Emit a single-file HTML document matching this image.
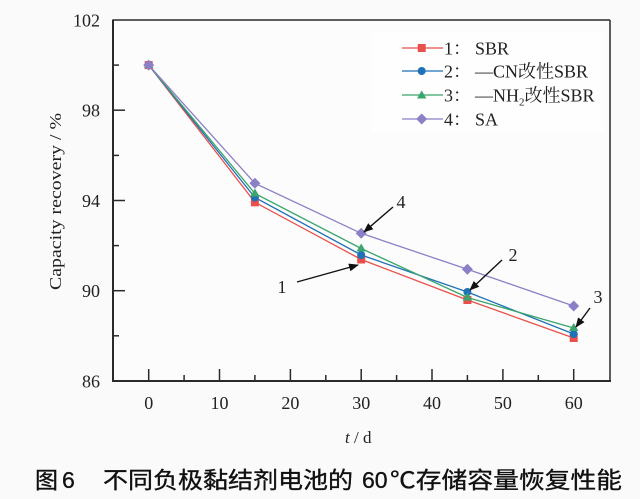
<!DOCTYPE html>
<html><head><meta charset="utf-8"><style>
html,body{margin:0;padding:0;background:#fafafa;}
svg{display:block;}
</style></head><body>
<svg width="640" height="499" viewBox="0 0 640 499" xmlns="http://www.w3.org/2000/svg">
<rect x="0" y="0" width="640" height="499" fill="#fafafa"/>
<rect x="113" y="20" width="497" height="361" fill="#fcfcfc"/>
<rect x="372" y="32" width="232" height="100" fill="#fefefe"/>
<defs>
<marker id="ah" markerWidth="10" markerHeight="8" refX="9" refY="4" orient="auto" markerUnits="userSpaceOnUse">
<path d="M0,0 L10,4 L0,8 Z" fill="#111"/>
</marker>
</defs>
<g stroke="#2a2a2a" fill="none">
<line x1="113" y1="20" x2="610" y2="20" stroke-width="1.5"/>
<line x1="610" y1="20" x2="610" y2="381" stroke-width="1.5"/>
<line x1="113" y1="19.5" x2="113" y2="382" stroke-width="2"/>
<line x1="112" y1="381" x2="611" y2="381" stroke-width="2"/>
<g stroke-width="1.5">
<line x1="113" y1="110.2" x2="125" y2="110.2"/>
<line x1="113" y1="200.5" x2="125" y2="200.5"/>
<line x1="113" y1="290.7" x2="125" y2="290.7"/>
<line x1="113" y1="65.1" x2="119" y2="65.1"/>
<line x1="113" y1="155.4" x2="119" y2="155.4"/>
<line x1="113" y1="245.6" x2="119" y2="245.6"/>
<line x1="113" y1="335.8" x2="119" y2="335.8"/>
<line x1="148.7" y1="381" x2="148.7" y2="369"/>
<line x1="219.5" y1="381" x2="219.5" y2="369"/>
<line x1="290.4" y1="381" x2="290.4" y2="369"/>
<line x1="361.2" y1="381" x2="361.2" y2="369"/>
<line x1="432.0" y1="381" x2="432.0" y2="369"/>
<line x1="502.9" y1="381" x2="502.9" y2="369"/>
<line x1="573.7" y1="381" x2="573.7" y2="369"/>
<line x1="184.1" y1="381" x2="184.1" y2="375"/>
<line x1="254.9" y1="381" x2="254.9" y2="375"/>
<line x1="325.8" y1="381" x2="325.8" y2="375"/>
<line x1="396.6" y1="381" x2="396.6" y2="375"/>
<line x1="467.4" y1="381" x2="467.4" y2="375"/>
<line x1="538.3" y1="381" x2="538.3" y2="375"/>
</g>
</g>
<g font-family="Liberation Serif, serif" font-size="18" fill="#222">
<g text-anchor="end">
<text x="100" y="26.5">102</text>
<text x="100" y="116.7">98</text>
<text x="100" y="207">94</text>
<text x="100" y="297.2">90</text>
<text x="100" y="387.5">86</text>
</g>
<g text-anchor="middle">
<text x="148.7" y="409">0</text>
<text x="219.5" y="409">10</text>
<text x="290.4" y="409">20</text>
<text x="361.2" y="409">30</text>
<text x="432.0" y="409">40</text>
<text x="502.9" y="409">50</text>
<text x="573.7" y="409">60</text>
</g>
<text x="345" y="443" font-size="17"><tspan font-style="italic">t</tspan> / d</text>
<text transform="translate(61,290) rotate(-90)" font-size="17" textLength="177" lengthAdjust="spacingAndGlyphs">Capacity recovery / %</text>
</g>
<g fill="none" stroke-width="1.3">
<polyline stroke="#e9504b" points="148.7,65.1 254.9,202.3 361.2,259.5 467.4,300 573.7,338"/>
<polyline stroke="#1f72b8" points="148.7,65.1 254.9,197.5 361.2,255 467.4,292 573.7,334"/>
<polyline stroke="#3aa56c" points="148.7,65.1 254.9,193.5 361.2,248.5 467.4,297.5 573.7,328"/>
<polyline stroke="#8b7fc6" points="148.7,65.1 254.9,183.3 361.2,233.3 467.4,269.3 573.7,306"/>
</g>
<g fill="#e9504b">
<rect x="144.7" y="61.1" width="8" height="8"/>
<rect x="250.9" y="198.3" width="8" height="8"/>
<rect x="357.2" y="255.5" width="8" height="8"/>
<rect x="463.4" y="296" width="8" height="8"/>
<rect x="569.7" y="334" width="8" height="8"/>
</g>
<g fill="#1f72b8">
<circle cx="148.7" cy="65.1" r="4"/>
<circle cx="254.9" cy="197.5" r="4"/>
<circle cx="361.2" cy="255" r="4"/>
<circle cx="467.4" cy="292" r="4"/>
<circle cx="573.7" cy="334" r="4"/>
</g>
<g fill="#3aa56c">
<path d="M148.7,60.1 L153.4,68.1 L144,68.1 Z"/>
<path d="M254.9,188.5 L259.6,196.5 L250.2,196.5 Z"/>
<path d="M361.2,243.5 L365.9,251.5 L356.5,251.5 Z"/>
<path d="M467.4,292.5 L472.1,300.5 L462.7,300.5 Z"/>
<path d="M573.7,323 L578.4,331 L569,331 Z"/>
</g>
<g fill="#8b7fc6">
<path d="M148.7,59.6 L154.2,65.1 L148.7,70.6 L143.2,65.1 Z"/>
<path d="M254.9,177.8 L260.4,183.3 L254.9,188.8 L249.4,183.3 Z"/>
<path d="M361.2,227.8 L366.7,233.3 L361.2,238.8 L355.7,233.3 Z"/>
<path d="M467.4,263.8 L472.9,269.3 L467.4,274.8 L461.9,269.3 Z"/>
<path d="M573.7,300.5 L579.2,306 L573.7,311.5 L568.2,306 Z"/>
</g>
<g stroke="#111" stroke-width="1.4" fill="none" marker-end="url(#ah)">
<line x1="393" y1="207" x2="364" y2="232"/>
<line x1="297" y1="282" x2="358" y2="265"/>
<line x1="502" y1="260" x2="470" y2="290"/>
<line x1="590" y1="308" x2="576" y2="327"/>
</g>
<g font-family="Liberation Serif, serif" font-size="18" fill="#222" text-anchor="middle">
<text x="401" y="208">4</text>
<text x="282" y="293">1</text>
<text x="513" y="261">2</text>
<text x="598" y="303">3</text>
</g>
<g stroke-width="1.3">
<line x1="402" y1="48" x2="443" y2="48" stroke="#e9504b"/>
<rect x="417.7" y="44" width="8" height="8" fill="#e9504b"/>
<line x1="402" y1="71" x2="443" y2="71" stroke="#1f72b8"/>
<circle cx="421.7" cy="71" r="4" fill="#1f72b8"/>
<line x1="402" y1="95" x2="443" y2="95" stroke="#3aa56c"/>
<path d="M421.7,90.5 L426.4,98.5 L417,98.5 Z" fill="#3aa56c"/>
<line x1="402" y1="119" x2="443" y2="119" stroke="#8b7fc6"/>
<path d="M421.7,113.5 L427.2,119 L421.7,124.5 L416.2,119 Z" fill="#8b7fc6"/>
</g>
<g font-family="'Liberation Serif', 'Noto Serif CJK SC', serif" font-size="18" fill="#222">
<text x="444" y="54.5">1：</text><text x="475" y="54.5">SBR</text>
<text x="444" y="77.5">2：</text><text x="475" y="77.5">—CN改性SBR</text>
<text x="444" y="101.5">3：</text><text x="475" y="101.5">—NH<tspan font-size="11" dy="4">2</tspan><tspan dy="-4">改性SBR</tspan></text>
<text x="444" y="125.5">4：</text><text x="475" y="125.5">SA</text>
</g>
<g font-family="'Liberation Sans', 'Noto Sans CJK SC', sans-serif" font-size="23" fill="#111" stroke="#111" stroke-width="0.35">
<text x="35" y="488">图</text>
<text x="62" y="488">6</text>
<text x="103" y="488" textLength="250" lengthAdjust="spacingAndGlyphs">不同负极黏结剂电池的</text>
<text x="362" y="488">60</text>
<text x="390" y="488" textLength="232" lengthAdjust="spacingAndGlyphs">℃存储容量恢复性能</text>
</g>
</svg>
</body></html>
